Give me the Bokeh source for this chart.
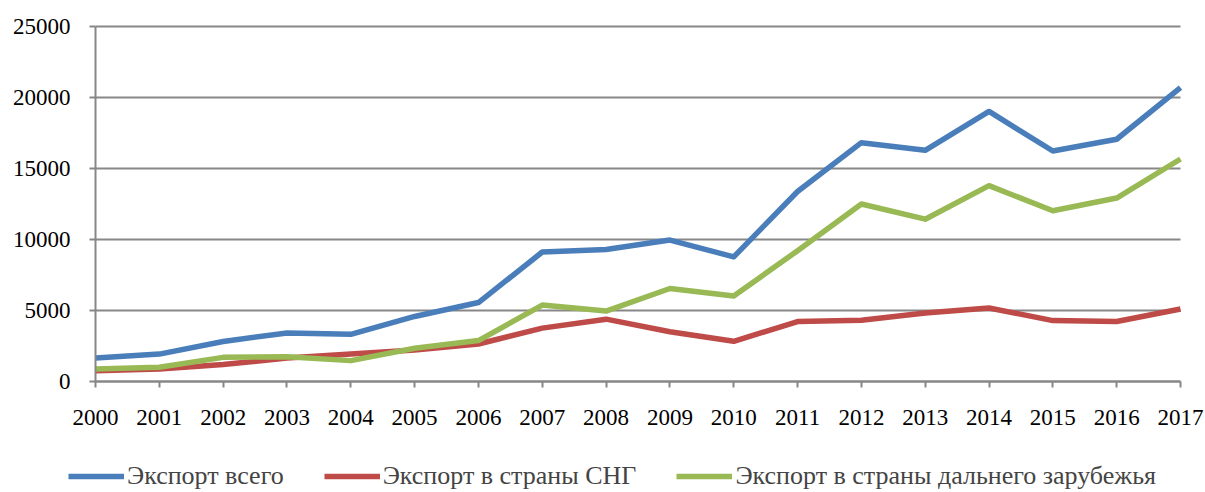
from bokeh.plotting import figure
from bokeh.models import Legend, LegendItem, FixedTicker, Range1d, BasicTickFormatter
from bokeh.embed import file_html
from bokeh.resources import INLINE

years = list(range(2000, 2018))
export_total = [1650, 1930, 2820, 3420, 3320, 4580, 5560, 9120, 9300, 9960, 8780,
                13380, 16820, 16280, 19020, 16230, 17060, 20700]
export_cis = [760, 880, 1190, 1660, 1940, 2220, 2640, 3760, 4390, 3500, 2830,
              4220, 4320, 4830, 5180, 4290, 4230, 5110]
export_far = [880, 1000, 1700, 1750, 1470, 2340, 2880, 5380, 4960, 6550, 6020,
              9210, 12500, 11430, 13790, 12020, 12920, 15670]
names = ["Экспорт всего", "Экспорт в страны СНГ", "Экспорт в страны дальнего зарубежья"]
colors = ["#4A7EBB", "#BE4B48", "#98B954"]
y_ticks = [0, 5000, 10000, 15000, 20000, 25000]

FONT = "Liberation Serif"
FS = "23px"
LEG_FS = "26px"
GRID = "#878787"

W, H = 1204, 491
# pixel layout of the plotting area
px_left, px_right, px_top, px_bottom = 95, 1180, 26, 381
x0, x1 = years[0], years[-1]
y0, y1 = y_ticks[0], y_ticks[-1]
xs = (x1 - x0) / (px_right - px_left)
ys = (y1 - y0) / (px_bottom - px_top)
xr = Range1d(x0 - px_left * xs, x1 + (W - px_right) * xs)
yr = Range1d(y0 - (H - px_bottom) * ys, y1 + px_top * ys)

p = figure(width=W, height=H, output_backend="svg", toolbar_location=None,
           x_range=xr, y_range=yr,
           min_border_left=0, min_border_right=0, min_border_top=0, min_border_bottom=0)
p.outline_line_color = None
p.background_fill_color = "white"
p.border_fill_color = "white"
p.xgrid.visible = False
p.ygrid.visible = False

# horizontal gridlines limited to the data span
p.segment(x0=[x0] * len(y_ticks), y0=y_ticks, x1=[x1] * len(y_ticks), y1=y_ticks,
          line_color=GRID, line_width=2)

renderers = []
for vals, c in zip([export_total, export_cis, export_far], colors):
    r = p.line(years, vals, line_color=c, line_width=5.5, line_join="round")
    renderers.append(r)

p.yaxis.ticker = FixedTicker(ticks=y_ticks)
p.yaxis.formatter = BasicTickFormatter(use_scientific=False)
p.yaxis.fixed_location = x0
p.yaxis.bounds = (y0, y1)
p.xaxis.ticker = FixedTicker(ticks=years)
p.xaxis.formatter = BasicTickFormatter(use_scientific=False)
p.xaxis.fixed_location = y0
p.xaxis.bounds = (x0, x1)
for ax in [p.xaxis[0], p.yaxis[0]]:
    ax.axis_line_color = GRID
    ax.axis_line_width = 2
    ax.major_tick_line_color = GRID
    ax.major_tick_line_width = 2
    ax.major_tick_out = 6
    ax.major_tick_in = 0
    ax.minor_tick_line_color = None
    ax.major_label_text_font = FONT
    ax.major_label_text_font_size = FS
    ax.major_label_text_color = "black"
p.xaxis.major_label_standoff = 22
p.yaxis.major_label_standoff = 19

legend = Legend(items=[LegendItem(label=n, renderers=[r]) for n, r in zip(names, renderers)],
                orientation="horizontal", location=(68, 0),
                label_text_font=FONT, label_text_font_size=LEG_FS,
                glyph_width=56, label_standoff=3, spacing=40,
                padding=0, margin=0, border_line_color=None, background_fill_alpha=0)
p.add_layout(legend, "center")

open("out.html", "w").write(file_html(p, INLINE))
